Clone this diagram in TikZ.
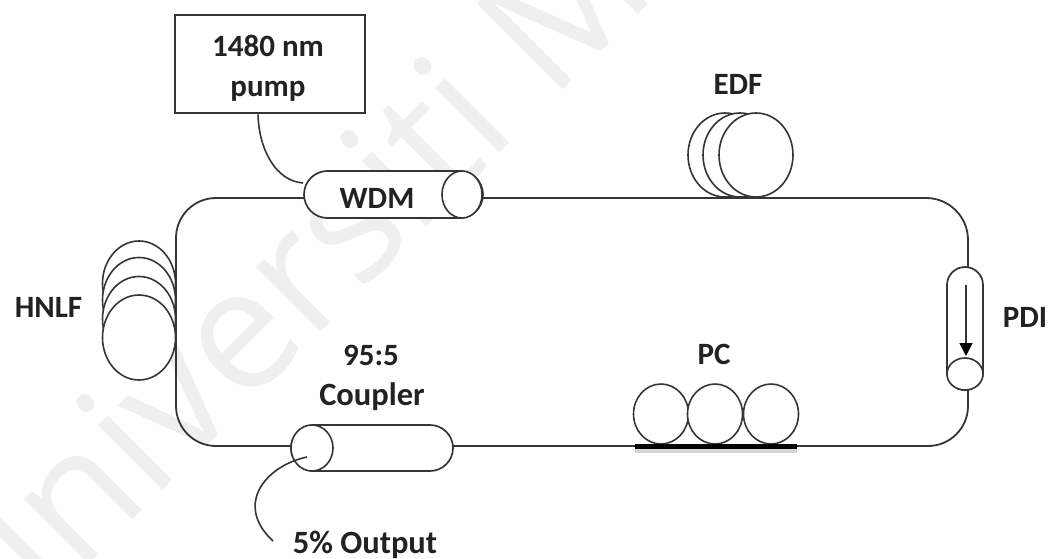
\documentclass[tikz,border=0pt]{standalone}
\usepackage{fontspec}
\setmainfont{Carlito}
\newfontfamily\wmfont{Open Sans}
\usetikzlibrary{shapes.misc,shapes.geometric,calc,arrows.meta}
\definecolor{ink}{HTML}{353535}
\definecolor{labelink}{HTML}{222222}
\definecolor{wmark}{HTML}{EFEFEF}
\tikzset{
  x=1pt,y=-1pt,
  fibre/.style={draw=ink,line width=1.8pt},
  coil/.style={ellipse,draw=ink,line width=1.6pt,fill=white,inner sep=0pt,minimum width=#1},
  capsule/.style={rounded rectangle,draw=ink,line width=1.7pt,fill=white,inner sep=0pt,outer sep=0pt},
  lab/.style={font=\fontsize{31}{34}\selectfont\bfseries,text=labelink,align=center,inner sep=0pt},
  labwide/.style={lab,font=\fontsize{32.5}{34}\selectfont\bfseries},
}
\begin{document}
\begin{tikzpicture}
\useasboundingbox (0,0) rectangle (1055,559);
\clip (0,0) rectangle (1055,559);
\fill[white] (0,0) rectangle (1055,559);
% watermark
\node[rotate=45,anchor=base west,text=wmark,inner sep=0pt,font=\fontsize{170}{170}\selectfont\wmfont] (wm) at (-9,662) {Universiti Malaya};

% coils
\node[coil=73pt,minimum height=85pt] (h1) at (139,283.5) {};
\node[coil=73pt,minimum height=85pt] (h2) at (139,300) {};
\node[coil=73pt,minimum height=85pt] (h3) at (139,319) {};
\node[coil=73pt,minimum height=85pt] (h4) at (139,337.5) {};
\node[coil=74pt,minimum height=84pt] (e1) at (725,155) {};
\node[coil=74pt,minimum height=84pt] (e2) at (740,155) {};
\node[coil=74pt,minimum height=84pt] (e3) at (756,155) {};
\node[coil=55pt,minimum height=60pt] (p1) at (661,414) {};
\node[coil=55pt,minimum height=60pt] (p2) at (715,414) {};
\node[coil=55pt,minimum height=60pt] (p3) at (771,414) {};

% components
\node[draw=ink,line width=2pt,minimum width=190pt,minimum height=98pt,inner sep=0pt] (pump) at (270,64.5) {};
\node[lab] (pumpT) at (268,68) {1480 nm\\[6pt]pump};
\node[capsule,minimum width=179pt,minimum height=47pt] (wdm) at (393.5,194.5) {};
\node[ellipse,draw=ink,line width=1.6pt,fill=white,minimum width=40pt,minimum height=47pt,inner sep=0pt] (wdmEnd) at (462,194.5) {};
\node[lab] (wdmT) at (377,198) {WDM};
\node[capsule,minimum width=162pt,minimum height=46pt] (coupler) at (372,448) {};
\node[ellipse,draw=ink,line width=1.6pt,fill=white,minimum width=42pt,minimum height=46pt,inner sep=0pt] (couplerEnd) at (312,448) {};
\node[capsule,rotate=90,minimum width=123pt,minimum height=36pt] (pdi) at (965,328.5) {};
\node[ellipse,draw=ink,line width=1.6pt,fill=white,minimum width=36pt,minimum height=32pt,inner sep=0pt] (pdiEnd) at (965,374) {};
\coordinate (pdiA) at (966,285);
\coordinate (pdiB) at (966,356);
\draw[ink,line width=1.6pt,-{Triangle[length=13pt,width=13pt,color=black]}] (pdiA) -- (pdiB);

% loop
\coordinate (lcorner) at (176,446);
\draw[fibre,rounded corners=40pt] ($(wdm.west)+(0,3.5)$) -| (lcorner) -- ($(coupler.west)+(0,-2)$);
\draw[fibre,rounded corners=42pt] ($(wdmEnd.east)+(0,3.5)$) -| ($(pdi.east)+(3,0)$);
\draw[fibre,rounded corners=40pt] ($(pdi.west)+(3,0)$) |- ($(coupler.east)+(0,-2)$);

% PC plate
\coordinate (barL) at (635,446);
\coordinate (barR) at (797,446);
\draw[line width=5pt,black!16] ($(barL)+(0,4)$) -- ($(barR)+(0,4)$);
\draw[line width=5pt,black] (barL) -- (barR);

% pump and output fibres
\coordinate (pumpOut) at ($(pump.south)+(-12,0)$);
\coordinate (wdmIn) at (303,183);
\draw[ink,line width=1.6pt] (pumpOut) .. controls (259,150) and (276,181) .. (wdmIn);
\coordinate (outIn) at (307,457);
\coordinate (outEnd) at (273,541);
\draw[ink,line width=1.6pt] (outIn) .. controls (265,466) and (234,505) .. (outEnd);

% labels
\node[lab] (edfT) at (738,84) {EDF};
\node[lab] (hnlfT) at (48.5,307) {HNLF};
\node[lab] (pdiT) at (1025,317) {PDI};
\node[lab] (pcT) at (714,354) {PC};
\node[lab] (c1) at (371,355) {95:5};
\node[labwide] (c2) at (372,397) {Coupler};
\node[labwide] (outT) at (365,545) {5\% Output};
\end{tikzpicture}
\end{document}
